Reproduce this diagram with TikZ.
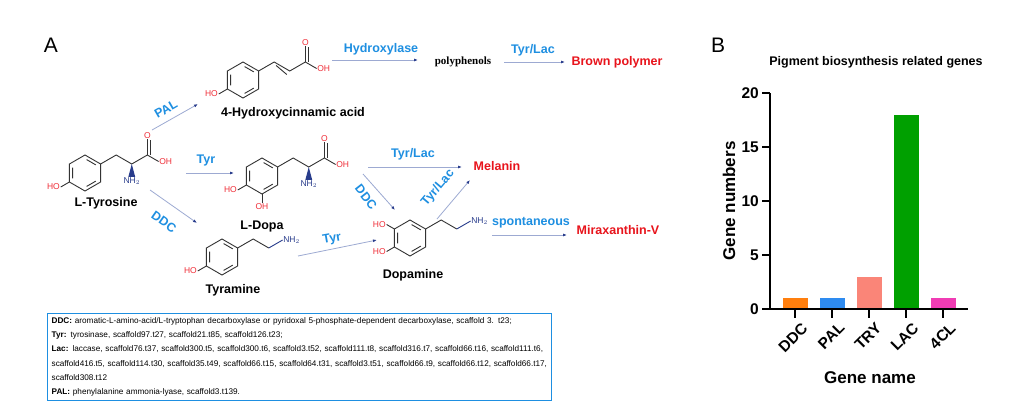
\documentclass[tikz,border=0pt]{standalone}
\usepackage{fontspec}
\setmainfont{Liberation Sans}
\usetikzlibrary{calc,arrows.meta}
\definecolor{lblue}{HTML}{1E8FE1}
\definecolor{rred}{HTML}{E8141C}
\definecolor{arr}{HTML}{9DAAD2}
\definecolor{navy}{HTML}{283C8C}
\definecolor{ored}{HTML}{F0303A}
\definecolor{bDDC}{HTML}{FF7F0E}
\definecolor{bPAL}{HTML}{2E8BF0}
\definecolor{bTRY}{HTML}{FA8578}
\definecolor{bLAC}{HTML}{00A000}
\definecolor{b4CL}{HTML}{F03CB4}
\tikzset{
 bond/.style={line width=0.9pt,black!80},
 ar/.style={line width=0.8pt,arr,-{Latex[length=4pt,width=3pt,color=navy]}},
 enz/.style={font=\bfseries\fontsize{12.5}{14}\selectfont,text=lblue,inner sep=1pt},
 prod/.style={font=\bfseries\fontsize{12.5}{14}\selectfont,text=rred,inner sep=1pt},
 mol/.style={font=\bfseries\fontsize{12.5}{14}\selectfont,inner sep=1pt},
 ox/.style={font=\fontsize{8.5}{9}\selectfont,text=ored,inner sep=0.5pt},
 nx/.style={font=\fontsize{8.5}{9}\selectfont,text=navy,inner sep=0.5pt},
 tick/.style={font=\bfseries\fontsize{15.5}{17}\selectfont,inner sep=1pt},
}
\newcommand\benz[1]{%
 \draw[bond] (#1)+(-90:18) -- +(-30:18) -- +(30:18) -- +(90:18) -- +(150:18) -- +(210:18) -- cycle;
 \draw[bond] (#1)+(-83:13.5) -- +(-37:13.5) (#1)+(37:13.5) -- +(83:13.5) (#1)+(157:13.5) -- +(203:13.5);}
\newcommand\cooh[2]{% name prefix, start atom
 \draw[bond] (#2) -- ++(-90:16) coordinate(#1O);
 \draw[bond] ($(#2)+(3,0)$) -- ++(-90:15);
 \node[ox,anchor=south] (#1Ol) at (#1O) {O};
 \draw[bond] (#2) -- ++(30:13) coordinate(#1H);
 \node[ox,anchor=west] (#1OH) at (#1H) {OH};}
\begin{document}
\begin{tikzpicture}[x=1pt,y=-1pt]
\useasboundingbox[fill=white] (0,0) rectangle (1031,410);
\node[font=\fontsize{21}{22}\selectfont] (A) at (51,45) {A};
\node[font=\fontsize{21}{22}\selectfont] (B) at (718,45) {B};
% L-Tyrosine
\coordinate (T) at (85,173);
\benz{T}
\draw[bond] ($(T)+(-30:18)$) -- ++(-30:18) coordinate(t2) -- ++(30:18) coordinate(t3) -- ++(-30:18) coordinate(t4);
\cooh{ty}{t4}
\fill[navy] (t3) -- ($(t3)+(88:13)+(3,0)$) -- ($(t3)+(92:13)+(-3,0)$) -- cycle;
\node[nx,anchor=north] (tyN) at ($(t3)+(90:13)$) {NH$_2$};
\draw[bond] ($(T)+(150:18)$) -- ++(150:10) node[ox,anchor=east] (tyHO) {HO};
\node[mol] (tyr) at (106,203) {L-Tyrosine};
% 4-Hydroxycinnamic acid
\coordinate (C) at (243,80);
\benz{C}
\draw[bond] ($(C)+(-30:18)$) -- ++(-30:18) coordinate(c2) -- ++(30:18) coordinate(c3) -- ++(-30:18) coordinate(c4);
\draw[bond] ($(c2)+(90:3.5)+(0:2)$) -- ($(c3)+(90:3.5)+(180:3)$);
\cooh{ci}{c4}
\draw[bond] ($(C)+(150:18)$) -- ++(150:10) node[ox,anchor=east] (ciHO) {HO};
\node[mol] (cin) at (293,113) {4-Hydroxycinnamic acid};
% L-Dopa
\coordinate (D) at (262,176);
\benz{D}
\draw[bond] ($(D)+(-30:18)$) -- ++(-30:18) coordinate(d2) -- ++(30:18) coordinate(d3) -- ++(-30:18) coordinate(d4);
\cooh{do}{d4}
\fill[navy] (d3) -- ($(d3)+(88:13)+(3,0)$) -- ($(d3)+(92:13)+(-3,0)$) -- cycle;
\node[nx,anchor=north] (doN) at ($(d3)+(90:13)$) {NH$_2$};
\draw[bond] ($(D)+(150:18)$) -- ++(150:10) node[ox,anchor=east] (doHO) {HO};
\draw[bond] ($(D)+(90:18)$) -- ++(90:9) node[ox,anchor=north] (doOH) {OH};
\node[mol] (dopa) at (262,226) {L-Dopa};
% Tyramine
\coordinate (Y) at (222,257);
\benz{Y}
\draw[bond] ($(Y)+(-30:18)$) -- ++(-30:18) coordinate(y2) -- ++(30:18) coordinate(y3);
\draw[bond,navy] (y3) -- ++(-30:16) coordinate(y4);
\node[nx,anchor=west] (yN) at (y4) {NH$_2$};
\draw[bond] ($(Y)+(150:18)$) -- ++(150:10) node[ox,anchor=east] (yHO) {HO};
\node[mol] (tyra) at (233,290) {Tyramine};
% Dopamine
\coordinate (M) at (410,238);
\benz{M}
\draw[bond] ($(M)+(-30:18)$) -- ++(-30:18) coordinate(m2) -- ++(30:18) coordinate(m3);
\draw[bond,navy] (m3) -- ++(-30:16) coordinate(m4);
\node[nx,anchor=west] (mN) at (m4) {NH$_2$};
\draw[bond] ($(M)+(150:18)$) -- ++(150:9) node[ox,anchor=east] (mHO1) {HO};
\draw[bond] ($(M)+(210:18)$) -- ++(210:9) node[ox,anchor=east] (mHO2) {HO};
\node[mol] (dopam) at (413,275) {Dopamine};
% other nodes
\node[inner sep=1pt] (poly) at (463,62) {\fontspec{Liberation Serif}\bfseries\fontsize{11}{12}\selectfont polyphenols};
\node[prod] (brown) at (617,62) {Brown polymer};
\node[prod] (mel) at (497,166) {Melanin};
\node[prod] (mira) at (618,230) {Miraxanthin-V};
% coordinates of arrows
\coordinate (p1) at (152,130); \coordinate (p2) at (198,104);
\coordinate (r1) at (186,173); \coordinate (r2) at (234,173);
\coordinate (q1) at (150,190); \coordinate (q2) at (197,223);
\coordinate (s1) at (298,256); \coordinate (s2) at (377,240);
\coordinate (h1) at (332,60); \coordinate (h2) at (418,60);
\coordinate (l1) at (504,62); \coordinate (l2) at (565,62);
\coordinate (m1) at (368,167); \coordinate (mm2) at (462,167);
\coordinate (k1) at (363,174); \coordinate (k2) at (395,210);
\coordinate (n1) at (437,219); \coordinate (n2) at (470,180);
\coordinate (o1) at (492,235); \coordinate (o2) at (567,235);
\draw[ar] (p1) -- (p2); \node[enz,rotate=30] (ePAL) at (166,109) {PAL};
\draw[ar] (r1) -- (r2); \node[enz] (eTyr) at (206,160) {Tyr};
\draw[ar] (q1) -- (q2); \node[enz,rotate=-35] (eDDC) at (164,222) {DDC};
\draw[ar] (s1) -- (s2); \node[enz,rotate=10] (eTyr2) at (332,239) {Tyr};
\draw[ar] (h1) -- (h2); \node[enz] (eHyd) at (381,49) {Hydroxylase};
\draw[ar] (l1) -- (l2); \node[enz] (eTL1) at (533,50) {Tyr/Lac};
\draw[ar] (m1) -- (mm2); \node[enz] (eTL2) at (413,154) {Tyr/Lac};
\draw[ar] (k1) -- (k2); \node[enz,rotate=-52] (eDDC2) at (366,197) {DDC};
\draw[ar] (n1) -- (n2); \node[enz,rotate=50] (eTL3) at (438,188) {Tyr/Lac};
\draw[ar] (o1) -- (o2); \node[enz] (eSp) at (531,223) {spontaneous};
% legend
\node[draw=lblue,line width=1.3pt,anchor=north west,inner sep=4pt,text width=496pt,align=left,
 font=\fontsize{8.2}{14.2}\selectfont] (leg) at (47,313) {%
\textbf{DDC:} aromatic-L-amino-acid/L-tryptophan decarboxylase or pyridoxal 5-phosphate-dependent decarboxylase, scaffold 3. t23;\\
\textbf{Tyr:} tyrosinase, scaffold97.t27, scaffold21.t85, scaffold126.t23;\\
\textbf{Lac:} laccase, scaffold76.t37, scaffold300.t5, scaffold300.t6, scaffold3.t52, scaffold111.t8, scaffold316.t7, scaffold66.t16, scaffold111.t6,\\
scaffold416.t5, scaffold114.t30, scaffold35.t49, scaffold66.t15, scaffold64.t31, scaffold3.t51, scaffold66.t9, scaffold66.t12, scaffold66.t17,\\
scaffold308.t12\\
\textbf{PAL:} phenylalanine ammonia-lyase, scaffold3.t139.};
% chart
\node[font=\bfseries\fontsize{12.5}{14}\selectfont] (title) at (876,62) {Pigment biosynthesis related genes};
\coordinate (o) at (770,309);
\fill[bDDC] (782.5,309) rectangle (807.5,298.2);
\fill[bPAL] (819.5,309) rectangle (844.5,298.2);
\fill[bTRY] (856.5,309) rectangle (881.5,276.6);
\fill[bLAC] (893.5,309) rectangle (918.5,114.6);
\fill[b4CL] (930.5,309) rectangle (955.5,298.2);
\draw[line width=1.6pt] (770,93) -- (o) -- (968,309);
\foreach \v/\y in {0/309,5/255,10/201,15/147,20/93}{
 \draw[line width=1.6pt] (762,\y) -- (770,\y);
 \node[tick,anchor=east] (yt\v) at (760,\y) {\v};}
\foreach \n/\x in {DDC/795,PAL/832,TRY/869,LAC/906,4CL/943}{
 \draw[line width=1.6pt] (\x,309) -- (\x,318);
 \node[tick,rotate=45,anchor=north east] (xt\n) at (\x+6,320) {\n};}
\node[font=\bfseries\fontsize{17}{18}\selectfont,rotate=90] (yl) at (729,201) {Gene numbers};
\node[font=\bfseries\fontsize{17}{18}\selectfont] (xl) at (870,378) {Gene name};
\end{tikzpicture}
\end{document}
